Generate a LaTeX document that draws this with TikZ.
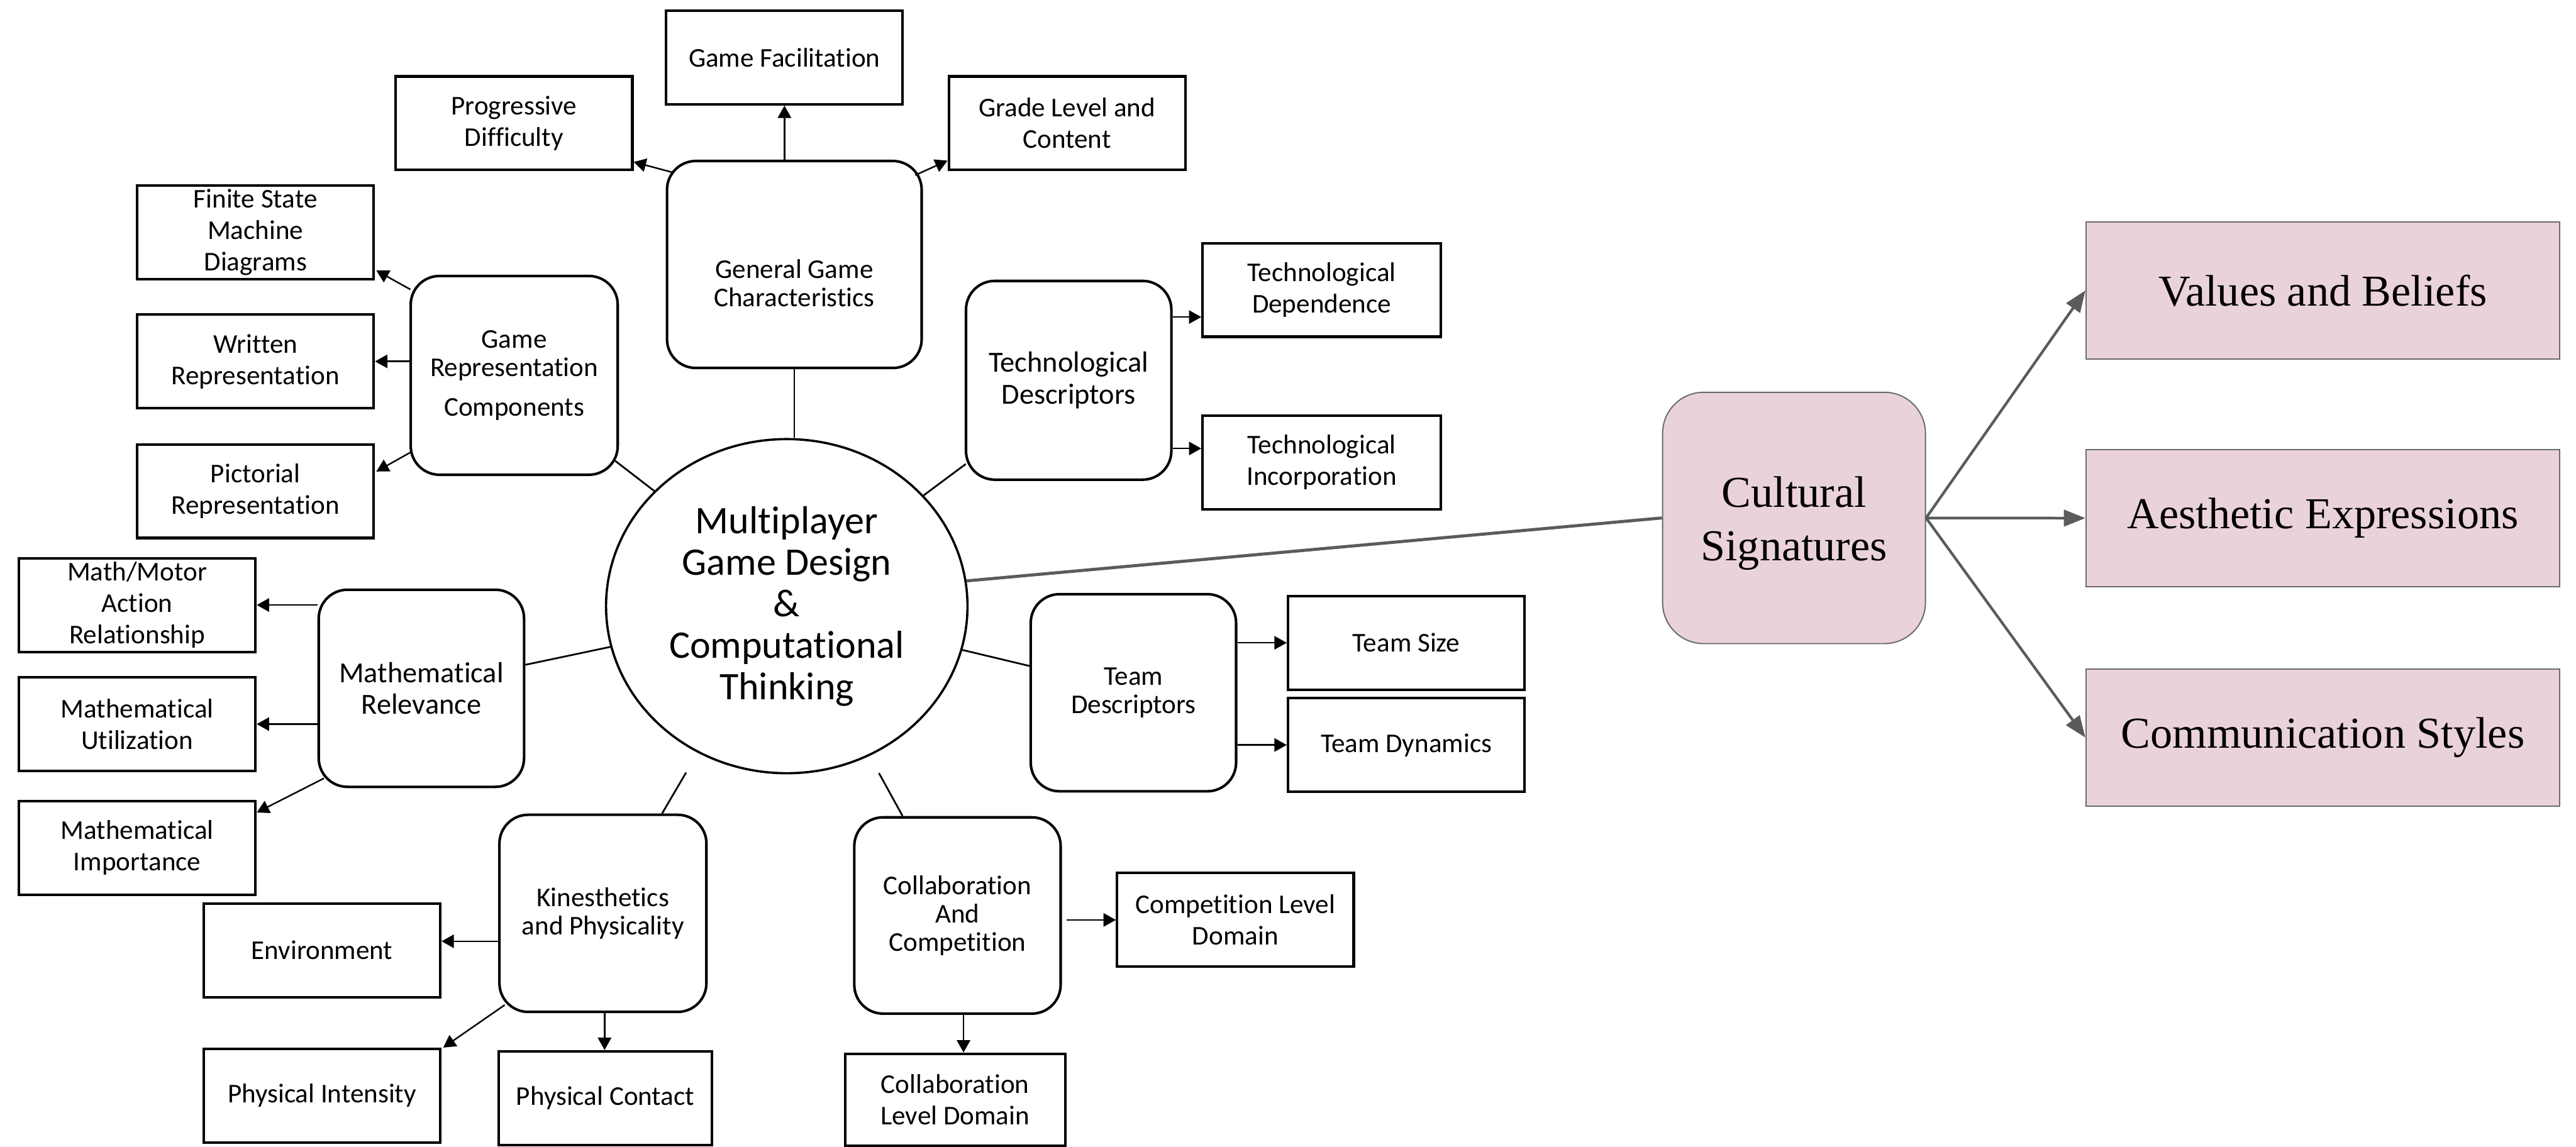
\documentclass[tikz,border=0pt]{standalone}
\usepackage{fontspec}
\setmainfont{Carlito}[Ligatures=NoCommon]
\newfontfamily\timesf{Liberation Serif}
\usetikzlibrary{arrows.meta,shapes.geometric}

\definecolor{culturefill}{HTML}{EAD2DC}
\definecolor{cultureedge}{HTML}{6A6A6A}
\definecolor{culturearrow}{HTML}{5B5B5B}

\begin{document}
\begin{tikzpicture}[
  x=0.8pt, y=-0.8pt,
  wh/.style 2 args={minimum width=#1*0.8pt, minimum height=#2*0.8pt},
  leaf/.style={draw, line width=1.25pt, rectangle, inner sep=0pt, align=center,
    wh={144}{57}, font=\fontsize{13.2}{15.3}\selectfont},
  group/.style={draw, line width=1.25pt, rectangle, rounded corners=14pt,
    inner sep=0pt, align=center, font=\fontsize{13.2}{13.8}\selectfont},
  bigger/.style={font=\fontsize{14.2}{15.5}\selectfont},
  plain/.style={inner sep=0pt, align=center, font=\fontsize{13.2}{13.8}\selectfont},
  hub/.style={draw, line width=1.1pt, ellipse, inner sep=0pt, align=center,
    font=\fontsize{19}{20.2}\selectfont},
  culture/.style={draw=cultureedge, fill=culturefill, line width=0.6pt,
    inner sep=0pt, align=center, font=\timesf\fontsize{21.5}{26}\selectfont},
  arr/.style={line width=0.75pt, -{Triangle[length=6pt,width=6.5pt]}},
  link/.style={line width=0.85pt},
  carr/.style={draw=culturearrow, line width=1.3pt,
    -{Triangle[length=10.5pt,width=8pt]}},
  cline/.style={draw=culturearrow, line width=1.5pt}
]
\useasboundingbox (0,0) rectangle (1568,698);

% central hub
\node[hub, wh={220}{203.4}] (main) at (478.9,369)
  {Multiplayer\\Game Design\\\&\\Computational\\Thinking};

% second-level groups
\node[group, wh={155}{126}] (ggc) at (483.5,161) {};
\node[plain] (ggctext) at (483.5,172.5) {General Game\\Characteristics};
\node[group, wh={126}{121}] (grc) at (313,228.5)
  {Game\\Representation\\[5.7pt]Components};
\node[group, bigger, wh={125}{121}] (td) at (650.5,231.5)
  {Technological\\Descriptors};
\node[group, bigger, wh={125}{120}] (mr) at (256.5,419)
  {Mathematical\\Relevance};
\node[group, wh={125}{120}] (tmd) at (689.9,421.7) {Team\\Descriptors};
\node[group, wh={126}{120}] (kp) at (367,556)
  {Kinesthetics\\and Physicality};
\node[group, wh={125.6}{119.5}] (cc) at (582.8,557.3)
  {Collaboration\\And\\Competition};

% leaves
\node[leaf] (fac) at (477.5,35) {Game Facilitation};
\node[leaf] (prog) at (312.9,75) {Progressive\\Difficulty};
\node[leaf] (grade) at (649.5,75) {Grade Level and\\Content};
\node[leaf] (fsm) at (155.5,141.4) {Finite State\\Machine\\Diagrams};
\node[leaf] (written) at (155.5,220) {Written\\Representation};
\node[leaf] (pict) at (155.5,299) {Pictorial\\Representation};
\node[leaf] (mm) at (83.5,368.3) {Math/Motor\\Action\\Relationship};
\node[leaf] (mu) at (83.5,440.8) {Mathematical\\Utilization};
\node[leaf] (mi) at (83.5,516.1) {Mathematical\\Importance};
\node[leaf] (env) at (196,578.5) {Environment};
\node[leaf] (pint) at (196,667) {Physical Intensity};
\node[leaf, wh={130}{57}] (pcon) at (368.5,668.5) {Physical Contact};
\node[leaf, wh={145}{57}] (techdep) at (804.5,176.5) {Technological\\Dependence};
\node[leaf, wh={145}{57}] (techinc) at (804.5,281.5) {Technological\\Incorporation};
\node[leaf] (tsize) at (856,391.3) {Team Size};
\node[leaf] (tdyn) at (856,453.5) {Team Dynamics};
\node[leaf] (comp) at (752,560) {Competition Level\\Domain};
\node[leaf, wh={134}{56}] (colld) at (581.4,669.5) {Collaboration\\Level Domain};

% cultural branch
\node[culture, rounded corners=20pt, wh={160}{153}] (cs) at (1092,315.3) {};
\node[inner sep=0pt, align=center, font=\timesf\fontsize{21.5}{26}\selectfont]
  (cstext) at (1092,318.5) {Cultural\\Signatures};
\node[culture, wh={288.3}{83.6}] (vb) at (1413.9,176.8) {Values and Beliefs};
\node[culture, wh={288.3}{83.6}] (ae) at (1413.9,315.4) {Aesthetic Expressions};
\node[culture, wh={288.3}{83.6}] (cm) at (1413.9,449) {Communication Styles};

% hub to groups
\draw[link] (ggc.south |- main.north) -- (ggc.south);
\draw[link] (main.139) -- ([shift={(-2.4,-9.3)}]grc.south east);
\draw[link] (main.39) -- ([shift={(0.6,-10.3)}]td.south west);
\draw[link] (main.193) -- ([shift={(0,-14.3)}]mr.east);
\draw[link] (main.-14) -- ([shift={(0,-16.3)}]tmd.west);
\coordinate (kpfoot) at ([shift={(-61.3,101.3)}]main.center);
\coordinate (ccfoot) at ([shift={(56.1,101.6)}]main.center);
\draw[link] (kpfoot) -- ([shift={(36,0)}]kp.north);
\draw[link] (ccfoot) -- ([shift={(-33.4,0)}]cc.north);

% general game characteristics
\draw[arr] (fac.south |- ggc.north) -- (fac.south);
\draw[arr] ([shift={(4.5,7.8)}]ggc.north west) -- ([shift={(0,-5.7)}]prog.south east);
\draw[arr] ([shift={(-4.7,9.4)}]ggc.north east) -- ([shift={(0,-6.5)}]grade.south west);

% game representation components
\draw[arr] ([shift={(0.6,9)}]grc.north west) -- ([shift={(0.8,-6)}]fsm.south east);
\draw[arr] (grc.west |- written.east) -- (written.east);
\draw[arr] ([shift={(0.6,-14.4)}]grc.south west) -- ([shift={(0.8,17.3)}]pict.north east);

% technological descriptors
\draw[arr] ([shift={(0,-38.5)}]td.east) coordinate (tdA) -- (tdA -| techdep.west);
\draw[arr] ([shift={(0,41.5)}]td.east) coordinate (tdB) -- (tdB -| techinc.west);

% mathematical relevance
\draw[arr] (mr.west |- mm.east) -- (mm.east);
\draw[arr] (mr.west |- mu.east) -- (mu.east);
\draw[arr] ([shift={(4,-6)}]mr.south west) -- ([shift={(0,7.8)}]mi.north east);

% kinesthetics and physicality
\draw[arr] ([shift={(0,17)}]kp.west) coordinate (kpA) -- (kpA -| env.east);
\draw[arr] ([shift={(4,-5)}]kp.south west) -- ([shift={(1,0)}]pint.north east);
\draw[arr] ([shift={(1,0)}]kp.south) coordinate (kpB) -- (kpB |- pcon.north);

% collaboration and competition
\draw[arr, shorten <=2.4pt] (cc.east |- comp.west) -- (comp.west);
\draw[arr] ([shift={(3.7,0)}]cc.south) coordinate (ccB) -- (ccB |- colld.north);

% team descriptors
\draw[arr] (tmd.east |- tsize.west) -- (tsize.west);
\draw[arr] (tmd.east |- tdyn.west) -- (tdyn.west);

% cultural signatures
\draw[cline] (main.8) -- (cs.west);
\draw[carr] (cs.east) -- (vb.west);
\draw[carr] (cs.east) -- (ae.west);
\draw[carr] (cs.east) -- (cm.west);
\end{tikzpicture}
\end{document}
